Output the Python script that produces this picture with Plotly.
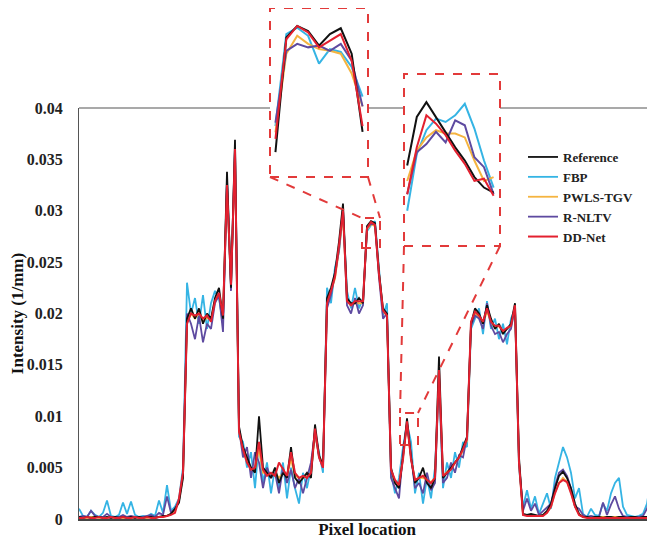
import plotly.graph_objects as go

# ---------------- data ----------------
pixel = list(range(145))

reference = [
    0.0002, 0.0001, 0.0002, 0.0001, 0.0002, 0.0002, 0.0001, 0.0002, 0.0001, 0.0002,
    0.0001, 0.0002, 0.0001, 0.0002, 0.0001, 0.0002, 0.0001, 0.0002, 0.0002, 0.0001,
    0.0002, 0.0003, 0.0003, 0.0005, 0.0010, 0.0016, 0.0040, 0.0195, 0.0205, 0.0195,
    0.0205, 0.0190, 0.0200, 0.0195, 0.0215, 0.0225, 0.0195, 0.0338, 0.0225, 0.0369,
    0.0090, 0.0070, 0.0060, 0.0050, 0.0045, 0.0100, 0.0050, 0.0045, 0.0040, 0.0050,
    0.0035, 0.0045, 0.0040, 0.0070, 0.0040, 0.0035, 0.0040, 0.0045, 0.0040, 0.0092,
    0.0062, 0.0052, 0.0215, 0.0225, 0.0240, 0.0270, 0.0307, 0.0215, 0.0210, 0.0210,
    0.0215, 0.0210, 0.0285, 0.0290, 0.0288, 0.0240, 0.0205, 0.0200, 0.0050, 0.0035,
    0.0030, 0.0060, 0.0098, 0.0060, 0.0035, 0.0040, 0.0050, 0.0035, 0.0030, 0.0040,
    0.0158, 0.0040, 0.0045, 0.0050, 0.0055, 0.0060, 0.0070, 0.0080, 0.0190, 0.0205,
    0.0200, 0.0190, 0.0208, 0.0195, 0.0185, 0.0190, 0.0180, 0.0185, 0.0190, 0.0210,
    0.0060, 0.0005, 0.0004, 0.0005, 0.0004, 0.0003, 0.0004, 0.0008, 0.0015, 0.0030,
    0.0042, 0.0046, 0.0040, 0.0030, 0.0015, 0.0005, 0.0002, 0.0002, 0.0001, 0.0002,
    0.0002, 0.0001, 0.0002, 0.0002, 0.0001, 0.0002, 0.0002, 0.0001, 0.0002, 0.0002,
    0.0001, 0.0002, 0.0002, 0.0001, 0.0002,
]

fbp = [
    0.0010, 0.0003, 0.0002, 0.0008, 0.0004, 0.0002, 0.0006, 0.0018, 0.0003, 0.0002,
    0.0004, 0.0016, 0.0005, 0.0017, 0.0004, 0.0002, 0.0003, 0.0002, 0.0005, 0.0003,
    0.0018, 0.0006, 0.0033, 0.0008, 0.0012, 0.0020, 0.0050, 0.0230, 0.0200, 0.0215,
    0.0190, 0.0218, 0.0185, 0.0210, 0.0222, 0.0215, 0.0190, 0.0330, 0.0230, 0.0362,
    0.0080, 0.0075, 0.0050, 0.0065, 0.0030, 0.0075, 0.0035, 0.0055, 0.0025, 0.0050,
    0.0030, 0.0055, 0.0020, 0.0050, 0.0030, 0.0015, 0.0045, 0.0030, 0.0050, 0.0085,
    0.0065, 0.0045, 0.0225, 0.0210, 0.0245, 0.0260, 0.0298, 0.0222, 0.0205, 0.0225,
    0.0205, 0.0215, 0.0280, 0.0286, 0.0290, 0.0245, 0.0198, 0.0210, 0.0045, 0.0025,
    0.0040, 0.0070, 0.0093, 0.0075, 0.0025, 0.0045, 0.0015, 0.0040, 0.0020, 0.0050,
    0.0135, 0.0030, 0.0055, 0.0040, 0.0065, 0.0050, 0.0075, 0.0070, 0.0185, 0.0195,
    0.0205, 0.0180, 0.0212, 0.0185, 0.0195, 0.0175, 0.0190, 0.0170, 0.0195, 0.0205,
    0.0050, 0.0012, 0.0028, 0.0010, 0.0022, 0.0005, 0.0015, 0.0025, 0.0010, 0.0040,
    0.0055, 0.0070, 0.0060, 0.0045, 0.0020, 0.0030, 0.0005, 0.0002, 0.0010, 0.0004,
    0.0003, 0.0015, 0.0008, 0.0025, 0.0035, 0.0040, 0.0012, 0.0004, 0.0003, 0.0002,
    0.0003, 0.0005, 0.0015, 0.0040, 0.0060,
]

pwls_tgv = [
    0.0001, 0.0002, 0.0001, 0.0002, 0.0002, 0.0001, 0.0002, 0.0001, 0.0002, 0.0001,
    0.0002, 0.0001, 0.0002, 0.0001, 0.0002, 0.0001, 0.0002, 0.0001, 0.0002, 0.0002,
    0.0002, 0.0002, 0.0003, 0.0005, 0.0008, 0.0018, 0.0042, 0.0192, 0.0200, 0.0195,
    0.0200, 0.0192, 0.0196, 0.0194, 0.0212, 0.0218, 0.0200, 0.0322, 0.0226, 0.0355,
    0.0086, 0.0066, 0.0056, 0.0050, 0.0048, 0.0068, 0.0045, 0.0045, 0.0042, 0.0045,
    0.0040, 0.0045, 0.0042, 0.0058, 0.0042, 0.0040, 0.0040, 0.0042, 0.0045, 0.0082,
    0.0062, 0.0052, 0.0208, 0.0220, 0.0234, 0.0262, 0.0296, 0.0212, 0.0208, 0.0210,
    0.0210, 0.0210, 0.0282, 0.0287, 0.0285, 0.0238, 0.0202, 0.0198, 0.0046, 0.0036,
    0.0032, 0.0060, 0.0092, 0.0060, 0.0038, 0.0040, 0.0040, 0.0038, 0.0036, 0.0040,
    0.0140, 0.0042, 0.0046, 0.0050, 0.0054, 0.0060, 0.0066, 0.0076, 0.0188, 0.0200,
    0.0196, 0.0190, 0.0202, 0.0192, 0.0186, 0.0188, 0.0182, 0.0185, 0.0188, 0.0205,
    0.0055, 0.0004, 0.0004, 0.0004, 0.0003, 0.0003, 0.0004, 0.0006, 0.0012, 0.0026,
    0.0035, 0.0040, 0.0036, 0.0026, 0.0012, 0.0005, 0.0002, 0.0002, 0.0002, 0.0002,
    0.0002, 0.0002, 0.0002, 0.0002, 0.0002, 0.0002, 0.0002, 0.0002, 0.0002, 0.0002,
    0.0002, 0.0002, 0.0002, 0.0002, 0.0002,
]

r_nltv = [
    0.0002, 0.0003, 0.0002, 0.0008, 0.0003, 0.0002, 0.0002, 0.0005, 0.0002, 0.0002,
    0.0002, 0.0004, 0.0002, 0.0003, 0.0002, 0.0002, 0.0002, 0.0003, 0.0004, 0.0002,
    0.0006, 0.0004, 0.0022, 0.0006, 0.0010, 0.0018, 0.0045, 0.0200, 0.0190, 0.0175,
    0.0198, 0.0172, 0.0190, 0.0185, 0.0210, 0.0218, 0.0182, 0.0328, 0.0222, 0.0360,
    0.0088, 0.0060, 0.0070, 0.0040, 0.0065, 0.0055, 0.0030, 0.0050, 0.0040, 0.0045,
    0.0025, 0.0050, 0.0035, 0.0048, 0.0030, 0.0040, 0.0025, 0.0040, 0.0055, 0.0085,
    0.0060, 0.0050, 0.0205, 0.0218, 0.0238, 0.0262, 0.0302, 0.0208, 0.0200, 0.0215,
    0.0200, 0.0208, 0.0284, 0.0287, 0.0287, 0.0235, 0.0195, 0.0200, 0.0040, 0.0030,
    0.0020, 0.0065, 0.0092, 0.0062, 0.0030, 0.0035, 0.0025, 0.0045, 0.0028, 0.0035,
    0.0140, 0.0035, 0.0040, 0.0055, 0.0045, 0.0062, 0.0060, 0.0080, 0.0188, 0.0198,
    0.0195, 0.0185, 0.0210, 0.0188, 0.0180, 0.0182, 0.0172, 0.0180, 0.0185, 0.0206,
    0.0055, 0.0008, 0.0020, 0.0008, 0.0015, 0.0004, 0.0008, 0.0012, 0.0015, 0.0032,
    0.0045, 0.0048, 0.0042, 0.0030, 0.0012, 0.0010, 0.0004, 0.0002, 0.0003, 0.0002,
    0.0002, 0.0016, 0.0004, 0.0014, 0.0022, 0.0010, 0.0003, 0.0002, 0.0002, 0.0002,
    0.0002, 0.0003, 0.0010, 0.0025, 0.0040,
]

dd_net = [
    0.0001, 0.0001, 0.0002, 0.0001, 0.0001, 0.0002, 0.0001, 0.0001, 0.0002, 0.0001,
    0.0001, 0.0002, 0.0001, 0.0001, 0.0002, 0.0001, 0.0001, 0.0002, 0.0001, 0.0001,
    0.0002, 0.0002, 0.0003, 0.0004, 0.0006, 0.0020, 0.0045, 0.0190, 0.0200, 0.0198,
    0.0200, 0.0195, 0.0198, 0.0192, 0.0212, 0.0220, 0.0198, 0.0325, 0.0228, 0.0360,
    0.0085, 0.0068, 0.0055, 0.0048, 0.0050, 0.0075, 0.0048, 0.0042, 0.0045, 0.0042,
    0.0055, 0.0048, 0.0042, 0.0065, 0.0045, 0.0040, 0.0042, 0.0040, 0.0045, 0.0088,
    0.0060, 0.0050, 0.0210, 0.0222, 0.0236, 0.0266, 0.0300, 0.0212, 0.0208, 0.0212,
    0.0212, 0.0212, 0.0283, 0.0289, 0.0286, 0.0238, 0.0203, 0.0198, 0.0048, 0.0038,
    0.0033, 0.0058, 0.0095, 0.0058, 0.0038, 0.0040, 0.0042, 0.0038, 0.0035, 0.0040,
    0.0145, 0.0042, 0.0045, 0.0048, 0.0055, 0.0060, 0.0068, 0.0078, 0.0192, 0.0202,
    0.0198, 0.0192, 0.0205, 0.0192, 0.0188, 0.0188, 0.0183, 0.0186, 0.0188, 0.0208,
    0.0055, 0.0004, 0.0003, 0.0003, 0.0003, 0.0003, 0.0003, 0.0006, 0.0012, 0.0025,
    0.0035, 0.0038, 0.0036, 0.0025, 0.0012, 0.0004, 0.0002, 0.0001, 0.0001, 0.0001,
    0.0001, 0.0001, 0.0001, 0.0001, 0.0001, 0.0001, 0.0001, 0.0001, 0.0001, 0.0001,
    0.0001, 0.0001, 0.0001, 0.0001, 0.0001,
]

# magnified views
zoom1_x = [71.0, 71.5, 72.0, 72.5, 73.0, 73.5, 74.0, 74.5, 75.0]
zoom1_reference = [0.02680, 0.02878, 0.02898, 0.02889, 0.02864, 0.02884, 0.02894, 0.02850, 0.02715]
zoom1_fbp = [0.02725, 0.02884, 0.02895, 0.02881, 0.02833, 0.02858, 0.02853, 0.02827, 0.02776]
zoom1_pwls_tgv = [0.02714, 0.02850, 0.02881, 0.02867, 0.02858, 0.02855, 0.02850, 0.02816, 0.02759]
zoom1_r_nltv = [0.02731, 0.02855, 0.02867, 0.02861, 0.02864, 0.02855, 0.02867, 0.02838, 0.02759]
zoom1_dd_net = [0.02703, 0.02875, 0.02898, 0.02887, 0.02861, 0.02872, 0.02884, 0.02838, 0.02725]

zoom2_x = [80.4, 80.85, 81.3, 81.75, 82.2, 82.65, 83.1, 83.55, 84.0, 84.45]
zoom2_reference = [0.00866, 0.00954, 0.00981, 0.00954, 0.00927, 0.00899, 0.00875, 0.00845, 0.00826, 0.00817]
zoom2_fbp = [0.00784, 0.00887, 0.00930, 0.00951, 0.00945, 0.00957, 0.00978, 0.00933, 0.00875, 0.00826]
zoom2_pwls_tgv = [0.00838, 0.00893, 0.00917, 0.00930, 0.00924, 0.00924, 0.00917, 0.00875, 0.00838, 0.00845]
zoom2_r_nltv = [0.00814, 0.00890, 0.00905, 0.00927, 0.00908, 0.00948, 0.00939, 0.00881, 0.00863, 0.00814]
zoom2_dd_net = [0.00814, 0.00899, 0.00957, 0.00942, 0.00921, 0.00893, 0.00869, 0.00838, 0.00842, 0.00811]

names = ["Reference", "FBP", "PWLS-TGV", "R-NLTV", "DD-Net"]
colors = ["#111111", "#35b4e4", "#f5b440", "#5e4aa0", "#e3202f"]

# ---------------- layout geometry ----------------
# the page body adds an 8 px offset, so the figure is sized to the visible window
OFF = 8
W, H = 655 - OFF, 541 - OFF
ML, MB, MT, MR = 79 - OFF, H - (519 - OFF), 0, 0
PW, PH = W - ML - MR, H - MB - MT
MAIN_TOP = (519 - 108) / PH
XR = [0, 144]
YR = [0, 0.04]


def px_x(p):
    return (p - OFF - ML) / PW


def px_y(p):
    return min(1.0, (H - MB - (p - OFF)) / PH)


def dx(v):
    return (v - XR[0]) / (XR[1] - XR[0])


def dy(v):
    return (v - YR[0]) / (YR[1] - YR[0]) * MAIN_TOP


box1 = dict(x0=70.75, x1=75.25, y0=0.02637, y1=0.02929)
box2 = dict(x0=80.25, x1=84.75, y0=0.00720, y1=0.01032)
ins1 = dict(x0=px_x(270), x1=px_x(368), y0=px_y(177), y1=px_y(8))
ins2 = dict(x0=px_x(404), x1=px_x(500), y0=px_y(246), y1=px_y(74))

fig = go.Figure()
series = [reference, fbp, pwls_tgv, r_nltv, dd_net]
z1 = [zoom1_reference, zoom1_fbp, zoom1_pwls_tgv, zoom1_r_nltv, zoom1_dd_net]
z2 = [zoom2_reference, zoom2_fbp, zoom2_pwls_tgv, zoom2_r_nltv, zoom2_dd_net]
draw_order = [1, 2, 3, 0, 4]
for k in draw_order:
    fig.add_trace(go.Scatter(x=pixel, y=series[k], name=names[k], mode="lines",
                             line=dict(color=colors[k], width=1.8 if k != 4 else 2.0),
                             legendrank=k + 1))
for k in draw_order:
    fig.add_trace(go.Scatter(x=zoom1_x, y=z1[k], mode="lines", showlegend=False,
                             line=dict(color=colors[k], width=2), xaxis="x2", yaxis="y2"))
    fig.add_trace(go.Scatter(x=zoom2_x, y=z2[k], mode="lines", showlegend=False,
                             line=dict(color=colors[k], width=2), xaxis="x3", yaxis="y3"))

serif = "Liberation Serif"
red = "#e23a3a"
shapes = [
    dict(type="line", xref="paper", yref="paper", x0=0, x1=1, y0=MAIN_TOP, y1=MAIN_TOP,
         line=dict(color="#555555", width=1.2), layer="below"),
    dict(type="rect", xref="paper", yref="paper", **ins1, fillcolor="white",
         line=dict(width=0), layer="below"),
    dict(type="rect", xref="paper", yref="paper", **ins2, fillcolor="white",
         line=dict(width=0), layer="below"),
]
dash = dict(color=red, width=2, dash="dash")
for b, ins in ((box1, ins1), (box2, ins2)):
    shapes.append(dict(type="rect", xref="x", yref="y", **b, line=dash, layer="above"))
    shapes.append(dict(type="rect", xref="paper", yref="paper", **ins, line=dash, layer="above"))
shapes += [
    dict(type="line", xref="paper", yref="paper", x0=ins1["x0"], y0=ins1["y0"],
         x1=dx(box1["x0"]), y1=dy(box1["y1"]), line=dash),
    dict(type="line", xref="paper", yref="paper", x0=ins1["x1"], y0=ins1["y0"],
         x1=dx(box1["x1"]), y1=dy(box1["y1"]), line=dash),
    dict(type="line", xref="paper", yref="paper", x0=ins2["x0"], y0=ins2["y0"],
         x1=dx(box2["x0"]), y1=dy(box2["y1"]), line=dash),
    dict(type="line", xref="paper", yref="paper", x0=ins2["x1"], y0=ins2["y0"],
         x1=dx(box2["x1"]), y1=dy(box2["y1"]), line=dash),
]

fig.update_layout(
    width=W, height=H,
    margin=dict(l=ML, r=MR, t=MT, b=MB, autoexpand=False),
    paper_bgcolor="white", plot_bgcolor="white",
    showlegend=True,
    legend=dict(x=px_x(523), y=px_y(142), xanchor="left", yanchor="top",
                font=dict(family=serif, size=13, color="#222222", weight="bold"),
                itemwidth=30, bgcolor="rgba(0,0,0,0)", tracegroupgap=0),
    xaxis=dict(domain=[0, 1], range=XR, showgrid=False, zeroline=False, automargin=False,
               showline=True, linecolor="#444444", linewidth=1.5, ticks="",
               showticklabels=False,
               title=dict(text="Pixel location", font=dict(family=serif, size=17,
                                                           color="#111111", weight="bold"),
                          standoff=3)),
    yaxis=dict(domain=[0, MAIN_TOP], range=YR, showgrid=False, zeroline=False, automargin=False,
               showline=True, linecolor="#555555", linewidth=1.2, ticks="",
               tickvals=[0, 0.005, 0.01, 0.015, 0.02, 0.025, 0.03, 0.035, 0.04],
               ticktext=["0", "0.005", "0.01", "0.015", "0.02", "0.025", "0.03", "0.035", "0.04"],
               tickfont=dict(family=serif, size=16, color="#222222", weight="bold"),
               ticklabelstandoff=12,
               title=dict(text="Intensity (1/mm)", font=dict(family=serif, size=17,
                                                              color="#111111", weight="bold"),
                          standoff=3)),
    xaxis2=dict(domain=[ins1["x0"], ins1["x1"]], range=[box1["x0"], box1["x1"]],
                visible=False, anchor="y2"),
    yaxis2=dict(domain=[ins1["y0"], ins1["y1"]], range=[box1["y0"], box1["y1"]],
                visible=False, anchor="x2"),
    xaxis3=dict(domain=[ins2["x0"], ins2["x1"]], range=[box2["x0"], box2["x1"]],
                visible=False, anchor="y3"),
    yaxis3=dict(domain=[ins2["y0"], ins2["y1"]], range=[box2["y0"], box2["y1"]],
                visible=False, anchor="x3"),
    shapes=shapes,
)

fig.write_html("out.html")
